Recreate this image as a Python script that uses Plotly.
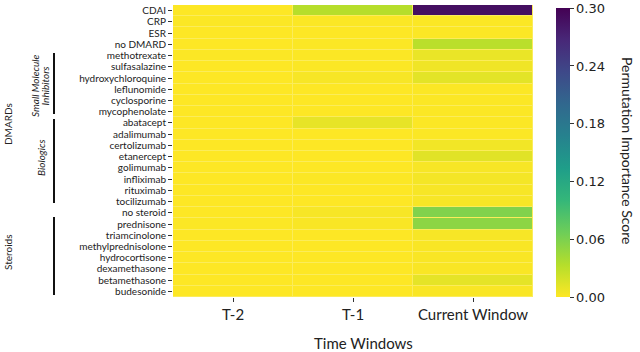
import plotly.graph_objects as go

features = ["CDAI", "CRP", "ESR", "no DMARD", "methotrexate", "sulfasalazine",
            "hydroxychloroquine", "leflunomide", "cyclosporine", "mycophenolate",
            "abatacept", "adalimumab", "certolizumab", "etanercept", "golimumab",
            "infliximab", "rituximab", "tocilizumab", "no steroid", "prednisone",
            "triamcinolone", "methylprednisolone", "hydrocortisone", "dexamethasone",
            "betamethasone", "budesonide"]
windows = ["T-2", "T-1", "Current Window"]

t_minus2 = [0.000, 0.001, 0.000, 0.000, 0.001, 0.000, 0.000, 0.000, 0.000, 0.000,
            0.000, 0.000, 0.000, 0.000, 0.000, 0.000, 0.000, 0.000, 0.000, 0.001,
            0.000, 0.000, 0.000, 0.000, 0.000, 0.000]
t_minus1 = [0.033, 0.001, 0.000, 0.001, 0.001, 0.001, 0.003, 0.000, 0.000, 0.000,
            0.010, 0.000, 0.000, 0.000, 0.000, 0.001, 0.000, 0.000, 0.003, 0.002,
            0.000, 0.000, 0.000, 0.000, 0.000, 0.000]
current = [0.288, 0.001, 0.001, 0.031, 0.009, 0.006, 0.012, 0.001, 0.001, 0.001,
           0.001, 0.001, 0.005, 0.013, 0.003, 0.004, 0.003, 0.003, 0.058, 0.052,
           0.003, 0.002, 0.002, 0.002, 0.011, 0.002]
cbar_ticks = [0.0, 0.06, 0.12, 0.18, 0.24, 0.30]
cbar_labels = ["0.00", "0.06", "0.12", "0.18", "0.24", "0.30"]

z = [[a, b, c] for a, b, c in zip(t_minus2, t_minus1, current)]

W, H = 640, 352
L, R, T, B = 173, 533, 5, 297
ml, mr, mt, mb = L, W - R, T, H - B
pw, ph = R - L, B - T


def px_x(x):
    return (x - L) / pw


def px_y(y):
    return (B - y) / ph


fig = go.Figure(go.Heatmap(
    z=z, x=windows, y=features,
    colorscale="Viridis", reversescale=True, zmin=0, zmax=0.3002,
    xgap=1, ygap=1,
    colorbar=dict(
        x=px_x(556), xanchor="left", xref="paper", xpad=0, ypad=0,
        y=0, yanchor="bottom", len=(B - 8) / ph, lenmode="fraction",
        thickness=14, outlinewidth=0,
        tickvals=cbar_ticks, ticktext=cbar_labels,
        ticks="outside", ticklen=4, tickcolor="#333",
        ticklabeloverflow="allow",
        tickfont=dict(family="DejaVu Sans", size=13, color="#222"),
    ),
))


def ann(text, x, y, angle, size, italic=False):
    font = dict(family="Lato", size=size, color="#222")
    if italic:
        font["style"] = "italic"
    return dict(text=text, x=px_x(x), y=px_y(y), xref="paper", yref="paper",
                xanchor="center", yanchor="middle", textangle=angle,
                showarrow=False, font=font)


annotations = [
    ann("Permutation Importance Score", 628, 150, 90, 14),
    ann("Time Windows", 363, 343, 0, 15),
    ann("Small Molecule", 35, 86, -90, 10, italic=True),
    ann("Inhibitors", 44.5, 86, -90, 10, italic=True),
    ann("Biologics", 41, 158, -90, 10, italic=True),
    ann("DMARDs", 8, 124, -90, 10),
    ann("Steroids", 8, 253, -90, 10),
]

shapes = [
    dict(type="line", xref="paper", yref="paper", x0=px_x(54), x1=px_x(54),
         y0=px_y(53), y1=px_y(114), line=dict(color="#111", width=2)),
    dict(type="line", xref="paper", yref="paper", x0=px_x(54), x1=px_x(54),
         y0=px_y(119), y1=px_y(203), line=dict(color="#111", width=2)),
    dict(type="line", xref="paper", yref="paper", x0=px_x(54), x1=px_x(54),
         y0=px_y(217), y1=px_y(295), line=dict(color="#111", width=2)),
]

fig.update_layout(
    width=W, height=H,
    margin=dict(l=ml, r=mr, t=mt, b=mb, pad=0, autoexpand=False),
    paper_bgcolor="white", plot_bgcolor="#fbec5a",
    font=dict(family="Lato", color="#222"),
    annotations=annotations, shapes=shapes,
    xaxis=dict(tickfont=dict(family="Lato", size=15), ticks="outside", ticklen=4,
               tickcolor="#333", showgrid=False, zeroline=False, automargin=False),
    yaxis=dict(autorange="reversed", tickfont=dict(family="Lato", size=10),
               tickmode="array", tickvals=features,
               ticks="outside", ticklen=4, tickcolor="#333", showgrid=False,
               zeroline=False, automargin=False),
)

fig.write_html("out.html", config={"displayModeBar": False},
               post_script="document.body.style.margin='0';")
